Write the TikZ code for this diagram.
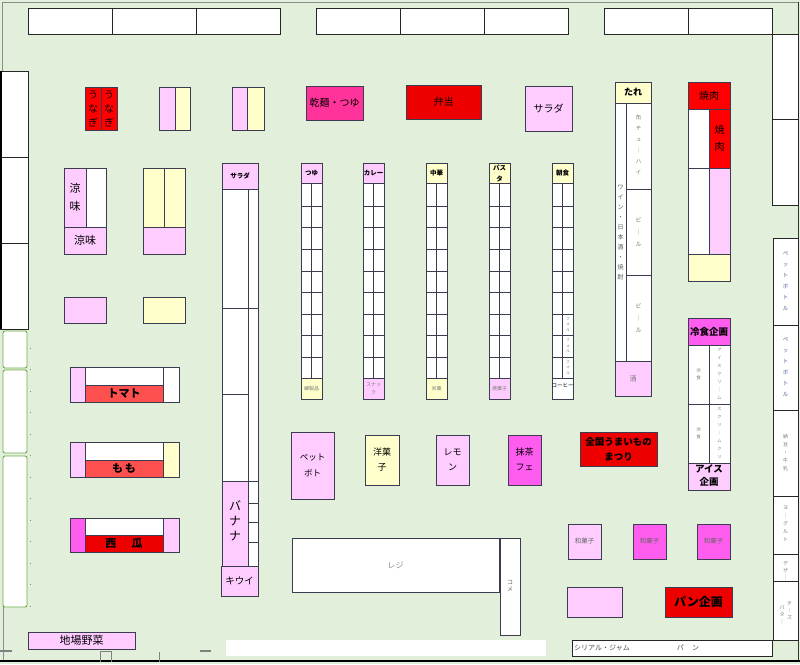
\documentclass[tikz,border=0pt]{standalone}
\usepackage{fontspec}
\setmainfont{Noto Sans CJK JP}
\definecolor{bg}{HTML}{E2EFDA}
\definecolor{pk}{HTML}{FFCCFF}
\definecolor{yl}{HTML}{FFFFCC}
\definecolor{rd}{HTML}{EE0000}
\definecolor{rdb}{HTML}{FF0000}
\definecolor{rd2}{HTML}{FF5050}
\definecolor{mg}{HTML}{FF5CF0}
\definecolor{hp}{HTML}{FF3399}
\definecolor{ln}{HTML}{3C3C50}
\definecolor{grn}{HTML}{70AD47}
\definecolor{gt}{HTML}{7A7A7A}
\definecolor{bt}{HTML}{4A5F9A}
\newcommand\fs[2]{\fontsize{#1}{#2}\selectfont}
\newcommand\vb{｜}
\newcommand\gondola[1]{%
  \draw[bx,fill=white] (#1,183) rectangle ++(21,195);
  \foreach \yy in {206,227,249,271,292,314,335,357} \draw[bx] (#1,\yy) -- ++(21,0);
  \draw[bx] (#1+10.5,183) -- (#1+10.5,378);
}
\begin{document}
\begin{tikzpicture}[x=1pt,y=-1pt,
  bx/.style={draw=ln,line width=0.8pt},
  wb/.style={draw=black!85,line width=1pt,fill=white},
  lb/.style={inner sep=0pt,align=center,text=black},
  tiny/.style={inner sep=0pt,align=center,text=gt},
  blu/.style={inner sep=0pt,align=center,text=bt}]
\useasboundingbox (0,0) rectangle (800,664);
\fill[bg] (0,0) rectangle (800,664);
% frame
\draw[black!45,line width=0.8pt] (2,2) -- (798,2);
\draw[black!45,line width=0.8pt] (2,2) -- (2,71);
\draw[black!80,line width=1.4pt] (798.5,2) -- (798.5,661);
\draw[black!45,line width=0.8pt] (3,607) -- (3,661);
\draw[black,line width=1.8pt] (0,661) -- (800,661);
% door marks
\draw[black!50,line width=1.3pt] (0,651) -- (12,651);
\draw[black!50,line width=1pt] (100,662) -- (100,651) -- (111,651) -- (111,662);
\draw[black!50,line width=1pt] (159,652) -- (159,662);
\draw[black!50,line width=1.3pt] (200,651) -- (211,651);
% top shelves
\draw[wb] (28,8) rectangle (280,34); \draw[wb] (112,8) -- (112,34); \draw[wb] (196,8) -- (196,34);
\draw[wb] (316,8) rectangle (568,34); \draw[wb] (400,8) -- (400,34); \draw[wb] (484,8) -- (484,34);
\draw[wb] (604,8) rectangle (772,34); \draw[wb] (688,8) -- (688,34);
% right wall
\draw[wb] (772,34) rectangle (798,119);
\draw[wb] (772,119) rectangle (798,205);
\foreach \a/\b in {238/325,325/410,410/496,496/554,554/581,581/640}
  \draw[wb] (773,\a) rectangle (798,\b);
\node[blu,font=\fs{5.5}{11}] (pb1) at (785.5,281) {ペ\\ッ\\ト\\ボ\\ト\\ル};
\node[blu,font=\fs{5.5}{11}] (pb2) at (785.5,367) {ペ\\ッ\\ト\\ボ\\ト\\ル};
\node[tiny,font=\fs{5}{8}] (nattou) at (785.5,453) {納\\豆\\・\\牛\\乳};
\node[tiny,font=\fs{5}{8}] (yogurt) at (785.5,524) {ヨ\\\vb\\グ\\ル\\ト};
\node[tiny,font=\fs{5}{7}] (dessert) at (785.5,571) {デ\\ザ\\\vb};
\node[tiny,font=\fs{5}{7}] (cheese) at (789.5,611) {チ\\\vb\\ズ};
\node[tiny,font=\fs{5}{7}] (butter) at (782,615) {バ\\タ\\\vb};
% left wall
\draw[wb] (0,71) rectangle (28,157);
\draw[wb] (0,157) rectangle (28,243);
\draw[wb] (0,243) rectangle (28,329);
\draw[black,line width=2.5pt] (1.2,71) -- (1.2,329);
\draw[draw=grn,fill=white,rounded corners=2pt,line width=0.9pt] (3,331) rectangle (27,368);
\draw[draw=grn,fill=white,rounded corners=2pt,line width=0.9pt] (3,370) rectangle (27,453);
\draw[draw=grn,fill=white,rounded corners=2pt,line width=0.9pt] (3,456) rectangle (27,607);
\foreach \y in {348,369.5,...,607} \draw[black!45,line width=0.7pt] (29.5,\y) -- (31,\y);
% bottom strip
\fill[white] (226,640) rectangle (546,656);
\draw[wb] (572,640) rectangle (772,656);
\node[tiny,anchor=west,font=\fs{7}{8},text=black!70] (cereal) at (574,648) {シリアル・ジャム};
\node[tiny,font=\fs{7}{8},text=black!70] (pan) at (688,648) {パ\hspace{1.2em}ン};
% unagi
\draw[bx,fill=rdb] (85,87) rectangle (117,130); \draw[bx] (101,87) -- (101,130);
\node[lb,font=\fs{10}{14}] (unagi1) at (93,108.5) {う\\な\\ぎ};
\node[lb,font=\fs{10}{14}] (unagi2) at (109,108.5) {う\\な\\ぎ};
% pairs
\draw[bx,fill=pk] (159,87) rectangle (175,130); \draw[bx,fill=yl] (175,87) rectangle (190,130);
\draw[bx,fill=pk] (232,87) rectangle (247,130); \draw[bx,fill=yl] (247,87) rectangle (264,130);
% ryoumi
\draw[bx,fill=pk] (64,168) rectangle (86,227); \draw[bx,fill=white] (86,168) rectangle (106,227);
\draw[bx,fill=pk] (64,227) rectangle (106,254);
\node[lb,font=\fs{11}{18}] (ryo1) at (75,197) {涼\\味};
\node[lb,font=\fs{11}{13}] (ryo2) at (85,240.5) {涼味};
% yellow block
\draw[bx,fill=yl] (143,168) rectangle (164,227); \draw[bx,fill=yl] (164,168) rectangle (185,227);
\draw[bx,fill=pk] (143,227) rectangle (185,254);
% small boxes
\draw[bx,fill=pk] (64,297) rectangle (106,323);
\draw[bx,fill=yl] (143,297) rectangle (185,323);
% tomato
\draw[bx,fill=pk] (70,367) rectangle (85,402);
\draw[bx,fill=white] (85,367) rectangle (163,385);
\draw[bx,fill=rd2] (85,385) rectangle (163,402);
\draw[bx,fill=white] (163,367) rectangle (179,402);
\node[lb,font=\fs{11}{13}\bfseries] (tomato) at (124,393.5) {トマト};
% momo
\draw[bx,fill=pk] (70,442) rectangle (85,477);
\draw[bx,fill=white] (85,442) rectangle (163,460);
\draw[bx,fill=rd2] (85,460) rectangle (163,477);
\draw[bx,fill=yl] (163,442) rectangle (179,477);
\node[lb,font=\fs{11}{13}\bfseries] (momo) at (124,468.5) {も\,も};
% suika
\draw[bx,fill=mg] (70,518) rectangle (85,552);
\draw[bx,fill=white] (85,518) rectangle (163,535);
\draw[bx,fill=rd] (85,535) rectangle (163,552);
\draw[bx,fill=pk] (163,518) rectangle (179,552);
\node[lb,font=\fs{11}{13}\bfseries] (suika) at (124,543.5) {西\hspace{1.4em}瓜};
% jiba yasai
\draw[bx,fill=pk] (28,632) rectangle (135,649);
\node[lb,font=\fs{11}{13}] (jiba) at (81.5,640.5) {地場野菜};
% salad column
\draw[bx,fill=pk] (222,163) rectangle (258,189);
\node[lb,font=\fs{6.5}{8}\bfseries] (sarada1) at (240,176) {サラダ};
\draw[bx,fill=white] (222,189) rectangle (248,481);
\draw[bx,fill=white] (248,189) rectangle (258,481);
\draw[bx] (222,308) -- (258,308); \draw[bx] (222,394) -- (248,394);
\draw[bx,fill=pk] (222,481) rectangle (248,566);
\node[lb,font=\fs{12}{15}] (banana) at (235,521) {バ\\ナ\\ナ};
\foreach \a/\b in {481/503,503/522,522/542,542/566} \draw[bx,fill=white] (248,\a) rectangle (258,\b);
\draw[bx,fill=pk] (221,566) rectangle (258,596);
\node[lb,font=\fs{9.5}{11}] (kiwi) at (239.5,581) {キウイ};
% gondolas
\gondola{301}\gondola{363}\gondola{426}\gondola{489}\gondola{552}
\draw[bx,fill=pk] (301,163) rectangle (322,183); \node[lb,font=\fs{6.5}{8}\bfseries] (tsuyu) at (311.5,173) {つゆ};
\draw[bx,fill=pk] (363,163) rectangle (384,183); \node[lb,font=\fs{6.5}{8}\bfseries] (curry) at (373.5,173) {カレー};
\draw[bx,fill=yl] (426,163) rectangle (447,183); \node[lb,font=\fs{6.5}{8}\bfseries] (chuka) at (436.5,173) {中華};
\draw[bx,fill=yl] (489,163) rectangle (510,183); \node[lb,font=\fs{6.5}{11}\bfseries] (pasta) at (499.5,173) {パス\\タ};
\draw[bx,fill=yl] (552,163) rectangle (573,183); \node[lb,font=\fs{6.5}{8}\bfseries] (choshoku) at (562.5,173) {朝食};
\draw[bx,fill=yl] (301,378) rectangle (322,399); \node[tiny,font=\fs{5}{6}] (neri) at (311.5,388.5) {練製品};
\draw[bx,fill=pk] (363,378) rectangle (384,399); \node[tiny,font=\fs{5}{8}] (snack) at (373.5,388.5) {スナッ\\ク};
\draw[bx,fill=yl] (426,378) rectangle (447,399); \node[tiny,font=\fs{5}{6}] (beika) at (436.5,388.5) {米菓};
\draw[bx,fill=pk] (489,378) rectangle (510,399); \node[tiny,font=\fs{5}{6}] (yakigashi) at (499.5,388.5) {焼菓子};
\draw[bx,fill=white] (552,378) rectangle (573,399); \node[lb,font=\fs{5.5}{6}] (coffee) at (562.5,385) {コーヒー};
\foreach \c/\n in {324.5/fa,346/fb,367.5/fc}
  \node[tiny,font=\fs{3.8}{5.5}] (\n) at (568,\c) {フ\\ォ\\ル};
% top middle
\draw[bx,fill=hp] (306,86) rectangle (363,120); \node[lb,font=\fs{10}{12}] (kanmen) at (334.5,103) {乾麺・つゆ};
\draw[bx,fill=rd] (406,85) rectangle (481,119); \node[lb,font=\fs{10}{12}] (bento) at (443.5,102) {弁当};
\draw[bx,fill=pk] (525,86) rectangle (572,131); \node[lb,font=\fs{10}{12}] (sarada2) at (548.5,108.5) {サラダ};
% tare / sake column
\draw[bx,fill=yl] (615,82) rectangle (651,103); \node[lb,font=\fs{9}{11}\bfseries] (tare) at (633,92.5) {たれ};
\draw[bx,fill=white] (615,103) rectangle (626,361);
\draw[bx,fill=white] (626,103) rectangle (651,189);
\draw[bx,fill=white] (626,189) rectangle (651,275);
\draw[bx,fill=white] (626,275) rectangle (651,361);
\node[tiny,font=\fs{6}{10},text=black!65] (wine) at (620.5,233) {ワ\\イ\\ン\\・\\日\\本\\酒\\・\\焼\\酎};
\node[blu,font=\fs{5.5}{11},text=gt] (chuhai) at (638.5,145) {缶\\チ\\ュ\\\vb\\ハ\\イ};
\node[tiny,font=\fs{6}{12}] (beer1) at (638.5,232) {ビ\\\vb\\ル};
\node[tiny,font=\fs{6}{12}] (beer2) at (638.5,318) {ビ\\\vb\\ル};
\draw[bx,fill=pk] (615,361) rectangle (651,396); \node[tiny,font=\fs{7}{8}] (sake) at (633,378.5) {酒};
% yakiniku
\draw[bx,fill=rdb] (688,82) rectangle (730,109); \node[lb,font=\fs{10}{12}] (yaki1) at (709,95.5) {焼肉};
\draw[bx,fill=white] (688,109) rectangle (709,168);
\draw[bx,fill=rdb] (709,109) rectangle (730,168); \node[lb,font=\fs{10}{17}] (yaki2) at (719.5,138) {焼\\肉};
\draw[bx,fill=white] (688,168) rectangle (709,254);
\draw[bx,fill=pk] (709,168) rectangle (730,254);
\draw[bx,fill=yl] (688,254) rectangle (730,281);
% reishoku
\draw[bx,fill=mg] (688,318) rectangle (730,345); \node[lb,font=\fs{9.5}{11}\bfseries] (reishoku) at (709,331.5) {冷食企画};
\draw[bx,fill=white] (688,345) rectangle (709,404); \draw[bx,fill=white] (709,345) rectangle (730,404);
\draw[bx,fill=white] (688,404) rectangle (709,463); \draw[bx,fill=white] (709,404) rectangle (730,463);
\node[tiny,font=\fs{4.5}{7}] (rs1) at (698.5,374.5) {冷\\食};
\node[tiny,font=\fs{4.5}{7}] (rs2) at (698.5,433.5) {冷\\食};
\node[tiny,font=\fs{4.2}{8}] (ice1) at (719.5,374.5) {ア\\イ\\ス\\ク\\リ\\\vb\\ム};
\node[tiny,font=\fs{4.2}{8}] (ice2) at (719.5,433.5) {ス\\ク\\リ\\\vb\\ム\\ク\\リ};
\draw[bx,fill=pk] (688,463) rectangle (730,490); \node[lb,font=\fs{9.5}{13}\bfseries] (icekikaku) at (709,476) {アイス\\企画};
% zenkoku
\draw[bx,fill=rd] (580,432) rectangle (657,466);
\node[lb,font=\fs{9.5}{15}\bfseries] (zenkoku) at (618.5,449) {全国うまいもの\\まつり};
% middle bottom
\draw[bx,fill=pk] (291,432) rectangle (334,499); \node[lb,font=\fs{8.5}{16}] (petto) at (312.5,465) {ペット\\ボト};
\draw[bx,fill=yl] (365,435) rectangle (399,485); \node[lb,font=\fs{9}{15}] (yogashi) at (382,459.5) {洋菓\\子};
\draw[bx,fill=pk] (436,435) rectangle (469,485); \node[lb,font=\fs{9}{15}] (lemon) at (452.5,459.5) {レモ\\ン};
\draw[bx,fill=mg] (508,435) rectangle (541,485); \node[lb,font=\fs{9}{15}] (matcha) at (524.5,459.5) {抹茶\\フェ};
\draw[bx,fill=white] (292,538) rectangle (499,592); \node[tiny,font=\fs{8}{10},text=black!45] (reji) at (395.5,565) {レジ};
\draw[bx,fill=white] (500,538) rectangle (520,635); \node[tiny,font=\fs{6}{7},text=black!60] (kome) at (510,586) {コ\\メ};
% bottom right
\draw[bx,fill=pk] (568,524) rectangle (601,559); \node[tiny,font=\fs{6.5}{8},text=black!60] (wa1) at (584.5,541.5) {和菓子};
\draw[bx,fill=mg] (633,524) rectangle (666,559); \node[tiny,font=\fs{6.5}{8},text=black!60] (wa2) at (649.5,541.5) {和菓子};
\draw[bx,fill=mg] (697,524) rectangle (730,559); \node[tiny,font=\fs{6.5}{8},text=black!60] (wa3) at (713.5,541.5) {和菓子};
\draw[bx,fill=pk] (567,587) rectangle (622,617);
\draw[bx,fill=rd] (665,587) rectangle (732,617); \node[lb,font=\fs{12}{14}\bfseries] (pankikaku) at (698.5,602) {パン企画};
\end{tikzpicture}
\end{document}
